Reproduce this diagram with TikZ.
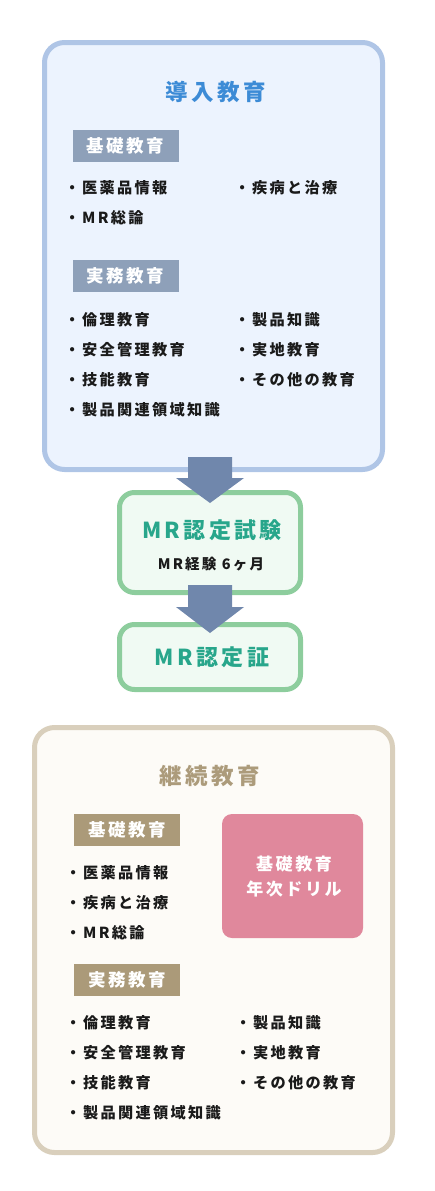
\documentclass[tikz,border=0pt]{standalone}
\usepackage{fontspec}
\newfontfamily\jp[LetterSpace=15]{Noto Sans CJK JP}
\usetikzlibrary{positioning,calc}
\definecolor{introline}{HTML}{AFC5E6}
\definecolor{introfill}{HTML}{ECF3FE}
\definecolor{introtitle}{HTML}{3C8BD6}
\definecolor{labelblue}{HTML}{8EA0B9}
\definecolor{flowcol}{HTML}{7087AC}
\definecolor{examline}{HTML}{8DCD9D}
\definecolor{examfill}{HTML}{F0FAF3}
\definecolor{examtext}{HTML}{28A68B}
\definecolor{contline}{HTML}{D9CFBC}
\definecolor{contfill}{HTML}{FDFBF7}
\definecolor{conttitle}{HTML}{AC9B7B}
\definecolor{labeltan}{HTML}{AB9A79}
\definecolor{drillcol}{HTML}{E0889C}
\definecolor{inkcol}{HTML}{1A1A1A}

\begin{document}
\begin{tikzpicture}[x=1pt, y=-1pt, font=\jp\bfseries, inner sep=0pt]
\tikzstyle{panel}=[draw, line width=5pt, rounded corners=20pt]
\tikzstyle{stage}=[draw=examline, fill=examfill, line width=5pt, rounded corners=15pt, minimum width=181pt]
\tikzstyle{title}=[font=\jp\bfseries\fontsize{22.5}{26}\selectfont]
\tikzstyle{tag}=[text=white, minimum width=106pt, minimum height=32pt, font=\jp\bfseries\fontsize{17.5}{20}\selectfont]
\tikzstyle{item}=[anchor=west, text=inkcol, font=\jp\bfseries\fontsize{15.2}{18}\selectfont]
\tikzstyle{flow}=[fill=flowcol]

\useasboundingbox (0,0) rectangle (434,1191);

\node[panel, draw=introline, fill=introfill, minimum width=338pt, minimum height=427pt] (intro) at (213.5,256) {};
\node[title, text=introtitle] (introtitle) at (216,92) {導入教育};

\node[tag, fill=labelblue] (basic1) at (125.5,146) {基礎教育};
\node[item] (b1a) at (64.5,188) {・医薬品情報};
\node[item] (b1b) at (234.5,188) {・疾病と治療};
\node[item] (b1c) at (64.5,218) {・MR総論};

\node[tag, fill=labelblue] (prac1) at (125.5,276) {実務教育};
\node[item] (p1a) at (64.5,320) {・倫理教育};
\node[item] (p1b) at (64.5,350) {・安全管理教育};
\node[item] (p1c) at (64.5,380) {・技能教育};
\node[item] (p1d) at (64.5,410) {・製品関連領域知識};
\node[item] (p1e) at (234.5,320) {・製品知識};
\node[item] (p1f) at (234.5,350) {・実地教育};
\node[item] (p1g) at (234.5,380) {・その他の教育};

\node[stage, minimum height=100pt] (exam) at (210,542.5) {};
\node[text=examtext, font=\jp\bfseries\fontsize{22}{25}\selectfont] (examtitle) at (212,530) {MR認定試験};
\node[text=inkcol, font=\jp\bfseries\fontsize{14.5}{17}\selectfont] (examsub) at (211,564) {MR経験 6ヶ月};

\node[stage, minimum height=65pt] (cert) at (210,657) {};
\node[text=examtext, font=\jp\bfseries\fontsize{22}{25}\selectfont] (certtitle) at (212,657) {MR認定証};

\fill[flow] ($(intro.south -| exam.north)+(-22,-15)$) -- ++(44,0) -- ++(0,21) -- ++(12,0)
  -- ($(exam.north)+(0,13)$) -- ($(intro.south -| exam.north)+(-34,6)$) -- ++(12,0) -- cycle;
\fill[flow] ($(exam.south)+(-22,-10)$) -- ++(44,0) -- ++(0,22) -- ++(12,0)
  -- ($(cert.north)+(0,11)$) -- ($(exam.south)+(-34,12)$) -- ++(12,0) -- cycle;

\node[panel, draw=contline, fill=contfill, minimum width=358pt, minimum height=425pt] (cont) at (213.5,940) {};
\node[title, text=conttitle] (conttitle) at (210,775.5) {継続教育};

\node[tag, fill=labeltan] (basic2) at (127,830) {基礎教育};
\node[item] (b2a) at (65.5,873) {・医薬品情報};
\node[item] (b2b) at (65.5,903) {・疾病と治療};
\node[item] (b2c) at (65.5,933) {・MR総論};

\node[fill=drillcol, rounded corners=10pt, minimum width=141pt, minimum height=124pt] (drill) at (292.5,876) {};
\node[text=white, align=center, font=\jp\bfseries\fontsize{17}{25}\selectfont] (drilltext) at (294,877) {基礎教育\\年次ドリル};

\node[tag, fill=labeltan] (prac2) at (127,980) {実務教育};
\node[item] (p2a) at (65.5,1023) {・倫理教育};
\node[item] (p2b) at (65.5,1053) {・安全管理教育};
\node[item] (p2c) at (65.5,1083) {・技能教育};
\node[item] (p2d) at (65.5,1113) {・製品関連領域知識};
\node[item] (p2e) at (235.5,1023) {・製品知識};
\node[item] (p2f) at (235.5,1053) {・実地教育};
\node[item] (p2g) at (235.5,1083) {・その他の教育};
\end{tikzpicture}
\end{document}
